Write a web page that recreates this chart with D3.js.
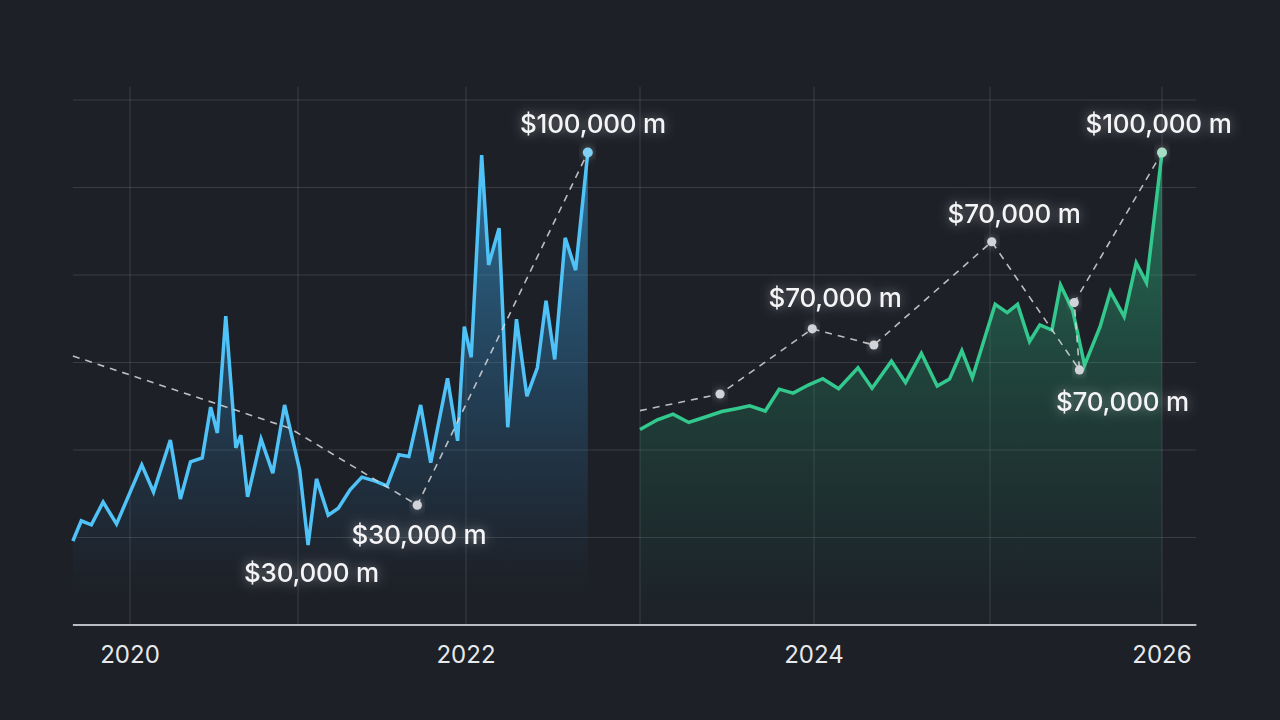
<!DOCTYPE html>
<html>
<head>
<meta charset="utf-8">
<script src="https://cdn.jsdelivr.net/npm/d3@7"></script>
<style>
  html, body { margin: 0; padding: 0; background: #1d2027; }
  #chart { width: 1280px; height: 720px; }
  text { font-family: "Inter", "Open Sans", sans-serif; }
</style>
</head>
<body>
<div id="chart"></div>
<script>
// ---------- data (year as decimal, value in $ thousand m) ----------
const blueYears = [2019.66, 2019.71, 2019.77, 2019.84, 2019.92, 2020.07, 2020.14, 2020.24, 2020.30, 2020.36,
  2020.43, 2020.48, 2020.52, 2020.57, 2020.63, 2020.66, 2020.70, 2020.78, 2020.85, 2020.92,
  2021.01, 2021.06, 2021.11, 2021.18, 2021.24, 2021.31, 2021.38, 2021.46, 2021.53, 2021.60,
  2021.66, 2021.73, 2021.79, 2021.89, 2021.95, 2021.99, 2022.03, 2022.09, 2022.13, 2022.19,
  2022.24, 2022.29, 2022.35, 2022.41, 2022.46, 2022.51, 2022.57, 2022.63, 2022.70];
const blueValues = [19.2, 23.8, 22.9, 28.1, 23.1, 36.6, 30.4, 42.3, 28.8, 37.3,
  38.2, 49.8, 43.9, 70.6, 40.5, 43.4, 29.3, 42.5, 34.7, 50.3,
  35.4, 18.3, 33.4, 25.1, 26.7, 30.9, 33.8, 32.9, 31.8, 38.9,
  38.5, 50.3, 37.1, 56.4, 42.1, 68.2, 61.2, 107.4, 82.3, 90.7,
  45.2, 69.9, 52.3, 58.8, 74.1, 60.7, 88.5, 81.1, 108.0];

const greenYears = [2023.00, 2023.10, 2023.19, 2023.28, 2023.38, 2023.47, 2023.56, 2023.63, 2023.72, 2023.80,
  2023.88, 2023.97, 2024.05, 2024.14, 2024.25, 2024.33, 2024.44, 2024.52, 2024.61, 2024.70,
  2024.77, 2024.84, 2024.90, 2025.03, 2025.10, 2025.16, 2025.23, 2025.29, 2025.36, 2025.41,
  2025.48, 2025.55, 2025.64, 2025.70, 2025.78, 2025.85, 2025.91, 2026.00];
const greenValues = [44.7, 46.9, 48.2, 46.3, 47.6, 48.8, 49.5, 50.1, 48.9, 53.9,
  53.0, 54.9, 56.3, 54.0, 58.8, 54.1, 60.3, 55.4, 62.1, 54.6,
  56.2, 62.7, 56.5, 73.3, 71.4, 73.3, 64.8, 68.6, 67.4, 77.7,
  72.0, 59.4, 68.2, 76.2, 70.5, 82.8, 78.2, 108.0];

// dashed trend lines; marker flags which vertices get a dot
const blueTrendYears = [2019.66, 2020.95, 2021.71, 2022.70];
const blueTrendValues = [61.5, 45.0, 27.4, 108.0];
const blueTrendMarker = [false, false, true, true];

const greenTrendYears = [2023.00, 2023.46, 2023.99, 2024.34, 2025.01, 2025.52, 2025.49, 2026.00];
const greenTrendValues = [49.0, 52.8, 67.7, 64.0, 87.6, 58.3, 73.7, 108.0];
const greenTrendMarker = [false, true, true, true, true, true, true, true];

const labelTexts = ["$100,000 m", "$30,000 m", "$30,000 m", "$70,000 m", "$70,000 m", "$70,000 m", "$100,000 m"];
const labelYears = [2022.73, 2021.72, 2021.08, 2024.12, 2025.14, 2025.77, 2025.98];
const labelValues = [114.6, 20.6, 11.9, 74.9, 94.1, 51.2, 114.6];

const yearTicks = [2020, 2022, 2024, 2026];
const gridYears = [2020, 2021, 2022, 2023, 2024, 2025, 2026];
const gridValues = [20, 40, 60, 80, 100, 120];

// ---------- setup ----------
const W = 1280, H = 720;
const svg = d3.select("#chart").append("svg")
  .attr("width", W).attr("height", H)
  .attr("viewBox", `0 0 ${W} ${H}`);

svg.append("rect").attr("width", W).attr("height", H).attr("fill", "#1d2027");

// x axis isn't quite even between years in the picture, so piecewise
const x = d3.scaleLinear()
  .domain([2020, 2021, 2022, 2023, 2024, 2025, 2026])
  .range([130, 298, 466, 640, 814, 990, 1162]);
const y = d3.scaleLinear().domain([0, 120]).range([625, 100]);

const xLeft = 2019.66, xRight = 2026.2;

const defs = svg.append("defs");

function makeGlow(id, std, opacity) {
  const f = defs.append("filter").attr("id", id)
    .attr("x", "-30%").attr("y", "-80%").attr("width", "160%").attr("height", "260%");
  f.append("feGaussianBlur").attr("in", "SourceAlpha").attr("stdDeviation", std).attr("result", "blur");
  f.append("feFlood").attr("flood-color", "#ffffff").attr("flood-opacity", opacity);
  f.append("feComposite").attr("in2", "blur").attr("operator", "in").attr("result", "halo");
  const m = f.append("feMerge");
  m.append("feMergeNode").attr("in", "halo");
  m.append("feMergeNode").attr("in", "SourceGraphic");
}
makeGlow("glow", 6, 0.42);
makeGlow("dotGlow", 4, 0.4);

const blueGrad = defs.append("linearGradient").attr("id", "blueFill")
  .attr("gradientUnits", "userSpaceOnUse")
  .attr("x1", 0).attr("x2", 0).attr("y1", y(108)).attr("y2", 592);
blueGrad.append("stop").attr("offset", 0).attr("stop-color", "#3aa0dc").attr("stop-opacity", 0.62);
blueGrad.append("stop").attr("offset", 0.6).attr("stop-color", "#2f7fb5").attr("stop-opacity", 0.28);
blueGrad.append("stop").attr("offset", 1).attr("stop-color", "#2a6a99").attr("stop-opacity", 0);

const greenGrad = defs.append("linearGradient").attr("id", "greenFill")
  .attr("gradientUnits", "userSpaceOnUse")
  .attr("x1", 0).attr("x2", 0).attr("y1", y(108)).attr("y2", y(0));
greenGrad.append("stop").attr("offset", 0).attr("stop-color", "#2fbf88").attr("stop-opacity", 0.55);
greenGrad.append("stop").attr("offset", 0.5).attr("stop-color", "#27a070").attr("stop-opacity", 0.25);
greenGrad.append("stop").attr("offset", 1).attr("stop-color", "#1f7a58").attr("stop-opacity", 0.02);

// ---------- grid ----------
const grid = svg.append("g");
grid.selectAll(".hgrid").data(gridValues).join("line")
  .attr("x1", x(xLeft)).attr("x2", x(xRight))
  .attr("y1", d => y(d)).attr("y2", d => y(d))
  .attr("stroke", "#ffffff").attr("stroke-opacity", 0.13).attr("stroke-width", 1);

grid.selectAll(".vgrid").data(gridYears).join("line")
  .attr("x1", d => x(d)).attr("x2", d => x(d))
  .attr("y1", y(123)).attr("y2", y(0))
  .attr("stroke", "#ffffff").attr("stroke-opacity", 0.13).attr("stroke-width", 1);

// ---------- areas + lines ----------
const blueData = blueYears.map((t, i) => ({ t, v: blueValues[i] }));
const greenData = greenYears.map((t, i) => ({ t, v: greenValues[i] }));

svg.append("path").datum(blueData)
  .attr("fill", "url(#blueFill)")
  .attr("d", d3.area().x(d => x(d.t)).y0(y(0)).y1(d => y(d.v)));

svg.append("path").datum(greenData)
  .attr("fill", "url(#greenFill)")
  .attr("d", d3.area().x(d => x(d.t)).y0(y(0)).y1(d => y(d.v)));

const line = d3.line().x(d => x(d.t)).y(d => y(d.v));

svg.append("path").datum(blueData)
  .attr("fill", "none").attr("stroke", "#4fc3f7").attr("stroke-width", 3.5)
  .attr("stroke-linejoin", "miter").attr("d", line);

svg.append("path").datum(greenData)
  .attr("fill", "none").attr("stroke", "#33c98e").attr("stroke-width", 3.5)
  .attr("stroke-linejoin", "miter").attr("d", line);

// baseline
svg.append("line")
  .attr("x1", x(xLeft)).attr("x2", x(xRight))
  .attr("y1", y(0)).attr("y2", y(0))
  .attr("stroke", "#b9bcc2").attr("stroke-width", 1.8);

// ---------- trend lines + markers ----------
function drawTrend(years, values, markers, endColor) {
  const pts = years.map((t, i) => ({ t, v: values[i], m: markers[i], last: i === years.length - 1 }));
  svg.append("path").datum(pts)
    .attr("fill", "none").attr("stroke", "#d8d8dc").attr("stroke-opacity", 0.85)
    .attr("stroke-width", 1.6).attr("stroke-dasharray", "7,6")
    .attr("d", line);
  svg.append("g").selectAll("circle").data(pts.filter(p => p.m)).join("circle")
    .attr("cx", d => x(d.t)).attr("cy", d => y(d.v))
    .attr("r", d => d.last ? 5 : 4.6)
    .attr("fill", d => d.last ? endColor : "#d2d3d8")
    .attr("filter", "url(#dotGlow)");
}
drawTrend(blueTrendYears, blueTrendValues, blueTrendMarker, "#7fd0f5");
drawTrend(greenTrendYears, greenTrendValues, greenTrendMarker, "#a6dfc3");

// ---------- labels ----------
svg.append("g").selectAll("text")
  .data(labelTexts.map((s, i) => ({ s, t: labelYears[i], v: labelValues[i] })))
  .join("text")
  .attr("x", d => x(d.t)).attr("y", d => y(d.v))
  .attr("text-anchor", "middle").attr("dominant-baseline", "central")
  .attr("fill", "#f5f5f7").attr("font-size", 26).attr("font-weight", 500)
  .attr("letter-spacing", -0.2)
  .attr("filter", "url(#glow)")
  .text(d => d.s);

// year axis labels
svg.append("g").selectAll("text").data(yearTicks).join("text")
  .attr("x", d => x(d)).attr("y", 654)
  .attr("text-anchor", "middle").attr("dominant-baseline", "central")
  .attr("fill", "#e8e9ec").attr("font-size", 24).attr("font-weight", 400)
  .text(d => d);
</script>
</body>
</html>
